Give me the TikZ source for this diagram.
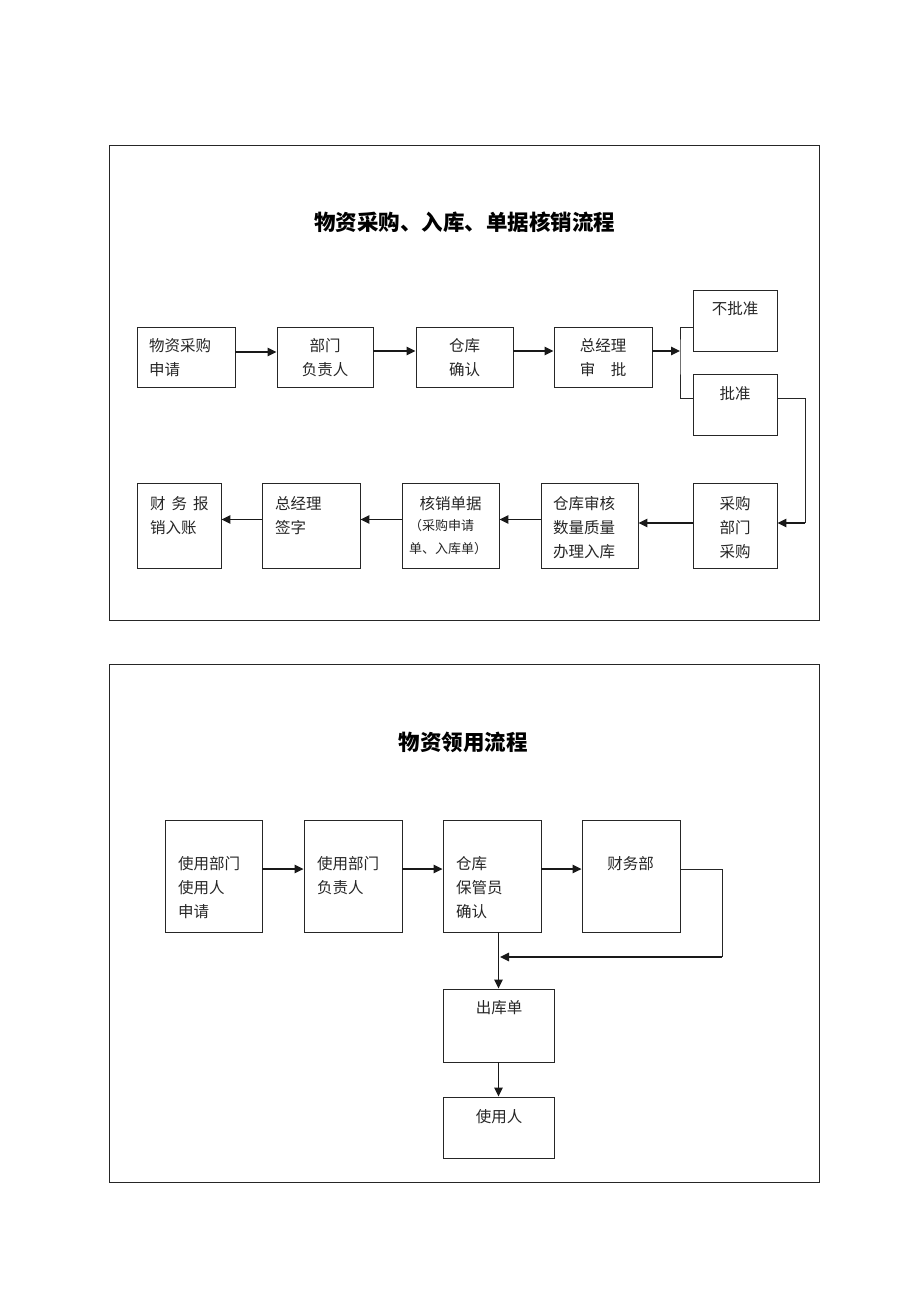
\documentclass[tikz,border=0pt]{standalone}
\usepackage{fontspec}
\setmainfont{Noto Sans CJK SC}
\usetikzlibrary{arrows.meta}
\newcommand\tl[1]{\begin{tabular}[t]{@{}l@{}}#1\end{tabular}}
\newcommand\tcn[1]{\begin{tabular}[t]{@{}c@{}}#1\end{tabular}}
\newcommand\bx[6][box]{\node[#1, minimum width={(#5-#3)*1pt}, minimum height={(#6-#4)*1pt}] (#2) at ({(#3+#5)/2},{(#4+#6)/2}) {};}
\begin{document}
\begin{tikzpicture}[x=1pt,y=-1pt,
  box/.style={draw=black!85, line width=0.9pt, inner sep=0pt, rectangle},
  frame/.style={draw=black!85, line width=0.9pt, inner sep=0pt, rectangle},
  tx/.style={inner sep=0pt, font=\fontsize{15.5}{24}\selectfont, text=black!85},
  txs/.style={inner sep=0pt, font=\fontsize{13}{23}\selectfont, text=black!85},
  ttl/.style={inner sep=0pt, font=\fontsize{21.5}{26}\selectfont\bfseries},
  arr/.style={draw=black!90, line width=1.4pt, -{Triangle[length=9pt,width=8.5pt]}},
  conn/.style={draw=black!85, line width=0.9pt}]
\fill[white] (0,0) rectangle (920,1302);
\useasboundingbox (0,0) rectangle (920,1302);

% frames
\bx[frame]{f1}{109}{145}{819}{620}
\bx[frame]{f2}{109}{664}{819}{1182}

% titles
\node[ttl, anchor=base] (t1) at (464.5,230) {物资采购、入库、单据核销流程};
\node[ttl, anchor=base] (t2) at (463,750) {物资领用流程};

% ---------- top diagram ----------
\bx{a1}{137}{327}{235}{387}
\bx{a2}{277}{327}{373}{387}
\bx{a3}{416}{327}{513}{387}
\bx{a4}{554}{327}{652}{387}
\bx{nb}{693}{290}{777}{351}
\bx{pz}{693}{374}{777}{435}

\bx{b1}{137}{483}{221}{568}
\bx{b2}{262}{483}{360}{568}
\bx{b3}{402}{483}{499}{568}
\bx{b4}{541}{483}{638}{568}
\bx{b5}{693}{483}{777}{568}

\node[tx, anchor=base west] (a1t) at (149,351) {\tl{物资采购\\申请}};
\node[tx, anchor=base] (a2t) at (325,351) {\tcn{部门\\负责人}};
\node[tx, anchor=base] (a3t) at (464.5,351) {\tcn{仓库\\确认}};
\node[tx, anchor=base] (a4t) at (603,351) {\tcn{总经理\\审　批}};
\node[tx, anchor=base] (nbt) at (735,314) {不批准};
\node[tx, anchor=base] (pzt) at (735,399) {批准};

\node[tx, anchor=base west] (b1t) at (150,509) {\tl{财\hspace{6pt}务\hspace{6pt}报\\销入账}};
\node[tx, anchor=base west] (b2t) at (275,509) {\tl{总经理\\签字}};
\node[tx, anchor=base] (b3t) at (450.5,509) {核销单据};
\node[txs, anchor=base west] (b3s) at (409,530) {\tl{（采购申请\\单、入库单）}};
\node[tx, anchor=base west] (b4t) at (553,509) {\tl{仓库审核\\数量质量\\办理入库}};
\node[tx, anchor=base] (b5t) at (735,509) {\tcn{采购\\部门\\采购}};

\draw[arr] ([yshift=5pt]a1.east) -- ([yshift=5pt]a2.west);
\draw[arr] ([yshift=6pt]a2.east) -- ([yshift=6pt]a3.west);
\draw[arr] ([yshift=6pt]a3.east) -- ([yshift=6pt]a4.west);
\coordinate (br) at (680,351);
\draw[arr] ([yshift=6pt]a4.east) -- (br);
\draw[conn] ([yshift=-6.5pt]nb.west) -| (br) |- ([yshift=6.5pt]pz.west);
\coordinate (rc) at (805,523);
\draw[conn] ([yshift=6.5pt]pz.east) -| (rc);
\draw[arr] (rc) -- ([yshift=2.5pt]b5.east);
\draw[arr] ([yshift=2.5pt]b5.west) -- ([yshift=2.5pt]b4.east);
\draw[arr] ([yshift=6pt]b4.west) -- ([yshift=6pt]b3.east);
\draw[arr] ([yshift=6pt]b3.west) -- ([yshift=6pt]b2.east);
\draw[arr] ([yshift=6pt]b2.west) -- ([yshift=6pt]b1.east);

% ---------- bottom diagram ----------
\bx{c1}{165}{820}{262}{932}
\bx{c2}{304}{820}{402}{932}
\bx{c3}{443}{820}{541}{932}
\bx{c4}{582}{820}{680}{932}
\bx{d1}{443}{989}{554}{1062}
\bx{d2}{443}{1097}{554}{1158}

\node[tx, anchor=base west] (c1t) at (178,869) {\tl{使用部门\\使用人\\申请}};
\node[tx, anchor=base west] (c2t) at (317,869) {\tl{使用部门\\负责人}};
\node[tx, anchor=base west] (c3t) at (456,869) {\tl{仓库\\保管员\\确认}};
\node[tx, anchor=base] (c4t) at (630.5,869) {财务部};
\node[tx, anchor=base] (d1t) at (499,1013) {出库单};
\node[tx, anchor=base] (d2t) at (499,1122) {使用人};

\draw[arr] ([yshift=7pt]c1.east) -- ([yshift=7pt]c2.west);
\draw[arr] ([yshift=7pt]c2.east) -- ([yshift=7pt]c3.west);
\draw[arr] ([yshift=7pt]c3.east) -- ([yshift=7pt]c4.west);
\coordinate (rc2) at (722,957);
\coordinate (mj) at (500,957);
\draw[conn] ([yshift=7pt]c4.east) -| (rc2);
\draw[arr] (rc2) -- (mj);
\draw[arr] (c3.south -| d1.north) -- (d1.north);
\draw[arr] (d1.south) -- (d2.north);
\end{tikzpicture}
\end{document}
